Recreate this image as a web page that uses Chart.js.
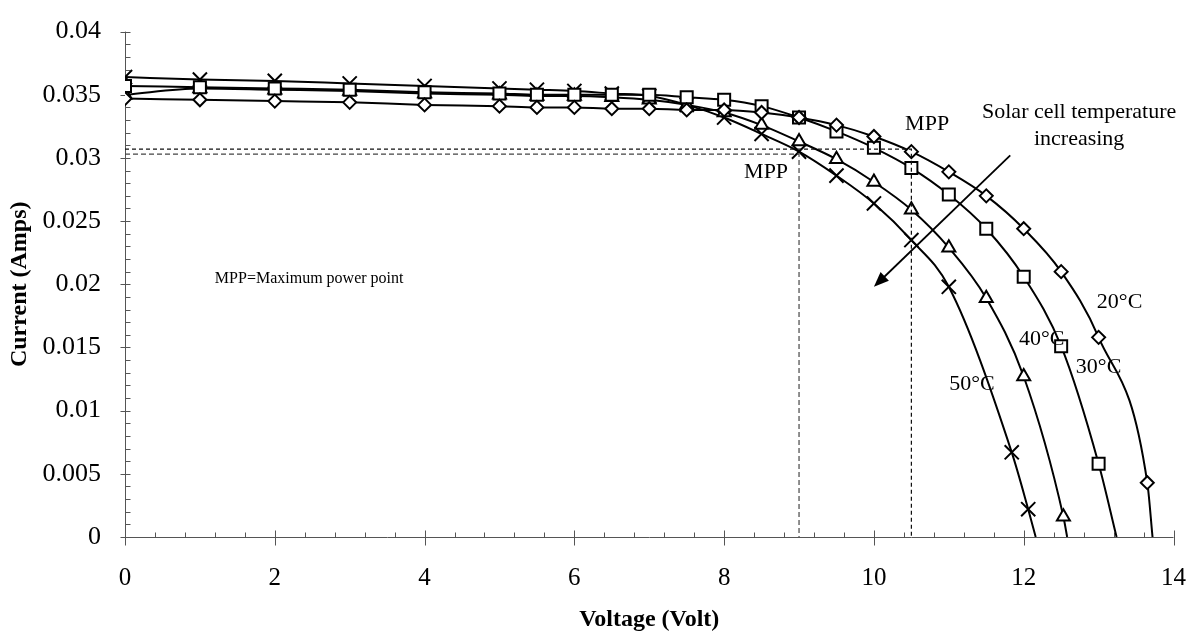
<!DOCTYPE html>
<html>
<head>
<meta charset="utf-8">
<script src="https://cdn.jsdelivr.net/npm/chart.js@4.4.1/dist/chart.umd.min.js"></script>
<style>
  html, body { margin: 0; padding: 0; background: #fff; }
  #wrap { width: 1204px; height: 637px; }
</style>
</head>
<body>
<div id="wrap"><canvas id="ivChart" width="1204" height="637"></canvas></div>
<script>
// I-V curves of the solar cell at four temperatures
const voltage20 = [0, 1, 2, 3, 4, 5, 5.5, 6, 6.5, 7, 7.5, 8, 8.5, 9, 9.5, 10, 10.5, 11, 11.5, 12, 12.5, 13, 13.65, 13.72];
const current20 = [0.0347, 0.0346, 0.0345, 0.0344, 0.0342, 0.0341, 0.0340, 0.0340, 0.0339, 0.0339, 0.0338, 0.0338, 0.0336, 0.0332, 0.0326, 0.0317, 0.0305, 0.0289, 0.0270, 0.0244, 0.0210, 0.0158, 0.0043, 0];

const voltage30 = [0, 1, 2, 3, 4, 5, 5.5, 6, 6.5, 7, 7.5, 8, 8.5, 9, 9.5, 10, 10.5, 11, 11.5, 12, 12.5, 13, 13.24];
const current30 = [0.0357, 0.0356, 0.0355, 0.0354, 0.0352, 0.0351, 0.0350, 0.0350, 0.0350, 0.0350, 0.0348, 0.0346, 0.0341, 0.0332, 0.0321, 0.0308, 0.0292, 0.0271, 0.0244, 0.0206, 0.0151, 0.0058, 0];

const voltage40 = [0, 1, 2, 3, 4, 5, 5.5, 6, 6.5, 7, 7.5, 8, 8.5, 9, 9.5, 10, 10.5, 11, 11.5, 12, 12.53, 12.58];
const current40 = [0.0350, 0.0355, 0.0354, 0.0353, 0.0351, 0.0350, 0.0349, 0.0349, 0.0348, 0.0346, 0.0342, 0.0336, 0.0326, 0.0313, 0.0299, 0.0281, 0.0259, 0.0229, 0.0189, 0.0127, 0.0016, 0];

const voltage50 = [0, 1, 2, 3, 4, 5, 5.5, 6, 6.5, 7, 7.5, 8, 8.5, 9, 9.5, 10, 10.5, 11, 11.84, 12.06, 12.16];
const current50 = [0.0364, 0.0362, 0.0361, 0.0359, 0.0357, 0.0355, 0.0354, 0.0353, 0.0351, 0.0349, 0.0342, 0.0332, 0.0319, 0.0305, 0.0286, 0.0264, 0.0235, 0.0198, 0.0067, 0.0022, 0];

// maximum power point guide lines
const mppLowVoltage = [0, 9, 9];
const mppLowCurrent = [0.0303, 0.0303, 0];
const mppHighVoltage = [0, 10.5, 10.5];
const mppHighCurrent = [0.0307, 0.0307, 0];

// axes
const xMin = 0, xMax = 14, xStep = 2, xMinor = 0.4;
const yMin = 0, yMax = 0.04, yStep = 0.005, yMinor = 0.001;

// text notes placed in data coordinates
const notes = [
  { text: "MPP", v: 10.71, i: 0.03264, align: "center", size: 22 },
  { text: "MPP", v: 8.56, i: 0.02884, align: "center", size: 22 },
  { text: "Solar cell temperature", v: 12.74, i: 0.03364, align: "center", size: 22 },
  { text: "increasing", v: 12.74, i: 0.03147, align: "center", size: 22 },
  { text: "MPP=Maximum power point", v: 1.2, i: 0.0204, align: "left", size: 16 },
  { text: "20°C", v: 13.28, i: 0.0186, align: "center", size: 22 },
  { text: "30°C", v: 13.0, i: 0.01341, align: "center", size: 22 },
  { text: "40°C", v: 12.24, i: 0.01566, align: "center", size: 22 },
  { text: "50°C", v: 11.31, i: 0.01209, align: "center", size: 22 }
];
const arrowFrom = { v: 11.82, i: 0.0302 };
const arrowTo = { v: 10.0, i: 0.0198 };

const serif = "'Liberation Serif', 'Times New Roman', serif";

function toPoints(xs, ys) {
  return xs.map((x, k) => ({ x: x, y: ys[k] }));
}

function curve(xs, ys, style, radius) {
  return {
    data: toPoints(xs, ys),
    showLine: true,
    borderColor: "#000",
    borderWidth: 2,
    cubicInterpolationMode: "monotone",
    pointStyle: style,
    pointRadius: (c) => (c.dataIndex === c.dataset.data.length - 1 ? 0 : radius),
    pointBackgroundColor: "#fff",
    pointBorderColor: "#000",
    pointBorderWidth: 2
  };
}

function guide(xs, ys, dash, color) {
  return {
    data: toPoints(xs, ys),
    showLine: true,
    borderColor: color,
    borderWidth: 1.2,
    borderDash: dash,
    pointRadius: 0,
    tension: 0
  };
}

// axis lines with crossing major ticks and inside minor ticks, plus notes and arrow
const axesPlugin = {
  id: "axesPlugin",
  beforeDatasetsDraw(chart) {
    const { ctx, scales: { x, y } } = chart;
    const x0 = Math.round(x.getPixelForValue(xMin)) + 0.5;
    const y0 = Math.round(y.getPixelForValue(yMin)) + 0.5;
    ctx.save();
    ctx.strokeStyle = "#555";
    ctx.lineWidth = 1;
    ctx.beginPath();
    ctx.moveTo(x0, y.getPixelForValue(yMax));
    ctx.lineTo(x0, y0);
    ctx.lineTo(x.getPixelForValue(xMax), y0);
    const ny = Math.round((yMax - yMin) / yMinor);
    for (let k = 0; k <= ny; k++) {
      const py = Math.round(y.getPixelForValue(yMin + k * yMinor)) + 0.5;
      if (k % 5 === 0) { ctx.moveTo(x0 - 5, py); ctx.lineTo(x0 + 5, py); }
      else { ctx.moveTo(x0, py); ctx.lineTo(x0 + 5, py); }
    }
    const nx = Math.round((xMax - xMin) / xMinor);
    for (let k = 0; k <= nx; k++) {
      const px = Math.round(x.getPixelForValue(xMin + k * xMinor)) + 0.5;
      if (k % 5 === 0) { ctx.moveTo(px, y0 - 7); ctx.lineTo(px, y0 + 8); }
      else { ctx.moveTo(px, y0); ctx.lineTo(px, y0 - 5); }
    }
    ctx.stroke();
    ctx.restore();
  },
  afterDatasetsDraw(chart) {
    const { ctx, scales: { x, y } } = chart;
    ctx.save();
    ctx.fillStyle = "#000";
    ctx.textBaseline = "middle";
    notes.forEach((n) => {
      ctx.font = n.size + "px " + serif;
      ctx.textAlign = n.align;
      ctx.fillText(n.text, x.getPixelForValue(n.v), y.getPixelForValue(n.i));
    });

    // arrow
    const ax = x.getPixelForValue(arrowFrom.v), ay = y.getPixelForValue(arrowFrom.i);
    const bx = x.getPixelForValue(arrowTo.v), by = y.getPixelForValue(arrowTo.i);
    const ang = Math.atan2(by - ay, bx - ax);
    const head = 15, half = 6;
    ctx.strokeStyle = "#000";
    ctx.lineWidth = 1.8;
    ctx.beginPath();
    ctx.moveTo(ax, ay);
    ctx.lineTo(bx - Math.cos(ang) * head * 0.8, by - Math.sin(ang) * head * 0.8);
    ctx.stroke();
    ctx.beginPath();
    ctx.moveTo(bx, by);
    ctx.lineTo(bx - Math.cos(ang) * head - Math.sin(ang) * half, by - Math.sin(ang) * head + Math.cos(ang) * half);
    ctx.lineTo(bx - Math.cos(ang) * head + Math.sin(ang) * half, by - Math.sin(ang) * head - Math.cos(ang) * half);
    ctx.closePath();
    ctx.fill();
    ctx.restore();
  }
};

const ctx = document.getElementById("ivChart").getContext("2d");
new Chart(ctx, {
  type: "scatter",
  data: {
    datasets: [
      guide(mppLowVoltage, mppLowCurrent, [5, 3], "#444"),
      guide(mppHighVoltage, mppHighCurrent, [4, 3], "#111"),
      curve(voltage20, current20, "rectRot", 6.5),
      curve(voltage30, current30, "rect", 8.5),
      curve(voltage40, current40, "triangle", 7.5),
      curve(voltage50, current50, "crossRot", 10)
    ]
  },
  options: {
    responsive: false,
    animation: false,
    layout: { padding: { top: 21, right: 25, bottom: 0, left: 0 } },
    plugins: { legend: { display: false }, tooltip: { enabled: false } },
    scales: {
      x: {
        type: "linear",
        min: xMin,
        max: xMax,
        grid: { display: false },
        border: { display: false },
        ticks: { stepSize: xStep, padding: 18, color: "#000", font: { family: serif, size: 25 } },
        title: { display: true, text: "Voltage (Volt)", color: "#000", padding: 3, font: { family: serif, size: 24, weight: "bold" } },
        afterFit: (s) => { s.height = 100; }
      },
      y: {
        type: "linear",
        min: yMin,
        max: yMax,
        grid: { display: false },
        border: { display: false },
        ticks: {
          stepSize: yStep,
          padding: 16,
          color: "#000",
          font: { family: serif, size: 26 },
          callback: (v) => String(Number(v.toFixed(3)))
        },
        title: { display: true, text: "Current (Amps)", color: "#000", padding: 5, font: { family: serif, size: 24, weight: "bold" } },
        afterFit: (s) => { s.width = 125; }
      }
    }
  },
  plugins: [axesPlugin]
});
</script>
</body>
</html>
